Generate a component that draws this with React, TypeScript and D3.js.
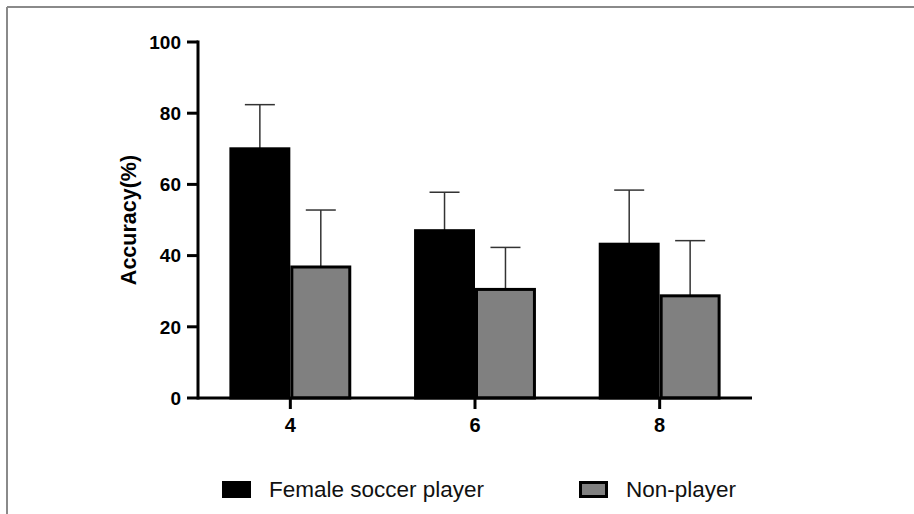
import * as d3 from "d3";
import React from "react";

// values
const categories = ["4", "6", "8"];
const seriesNames = ["Female soccer player", "Non-player"];
const playerMean = [70, 47, 43.2];
const playerSd = [12.4, 10.8, 15.2];
const nonPlayerMean = [36.8, 30.5, 28.7];
const nonPlayerSd = [16, 11.8, 15.5];
const yTicks = [0, 20, 40, 60, 80, 100];

const W = 914;
const H = 514;
const margin = { top: 42, right: 162, bottom: 116, left: 198 };

const fills = ["#000000", "#808080"];
const font = "'Liberation Sans', Arial, sans-serif";

const App = () => {
  const x = d3.scaleBand()
    .domain(categories)
    .range([margin.left, W - margin.right])
    .padding(0);

  const inner = d3.scaleBand()
    .domain(seriesNames)
    .range([0, x.bandwidth() * 0.66])
    .padding(0);

  const y = d3.scaleLinear()
    .domain([0, 100])
    .range([H - margin.bottom, margin.top]);

  const groupOffset = x.bandwidth() * 0.17;

  const rows = categories.map((c, i) => ({
    cat: c,
    bars: [
      { name: seriesNames[0], mean: playerMean[i], sd: playerSd[i] },
      { name: seriesNames[1], mean: nonPlayerMean[i], sd: nonPlayerSd[i] },
    ],
  }));

  const y0 = y(0);
  const axisLeft = margin.left;
  const axisRight = W - margin.right;

  return (
    <svg width={W} height={H} style={{ position: "absolute", left: 0, top: 0, background: "#fff" }}>
      {/* frame */}
      <line x1={7} y1={7} x2={W} y2={7} stroke="#8a8a8a" strokeWidth={2} />
      <line x1={7} y1={7} x2={7} y2={H} stroke="#8a8a8a" strokeWidth={2} />

      {/* bars + error bars */}
      {rows.map((r) => (
        <g key={r.cat} transform={`translate(${x(r.cat)! + groupOffset},0)`}>
          {r.bars.map((b, j) => {
            const bx = inner(b.name)!;
            const bw = inner.bandwidth();
            const cx = bx + bw / 2;
            return (
              <g key={b.name}>
                <line x1={cx} x2={cx} y1={y(b.mean)} y2={y(b.mean + b.sd)} stroke="#333" strokeWidth={1.5} />
                <line x1={cx - 15} x2={cx + 15} y1={y(b.mean + b.sd)} y2={y(b.mean + b.sd)} stroke="#333" strokeWidth={1.5} />
                <rect
                  x={bx + 1.5}
                  y={y(b.mean)}
                  width={bw - 3}
                  height={y0 - y(b.mean)}
                  fill={fills[j]}
                  stroke="#000"
                  strokeWidth={3}
                />
              </g>
            );
          })}
        </g>
      ))}

      {/* y axis */}
      <line x1={axisLeft} x2={axisLeft} y1={y(100) - 1.5} y2={y0 + 1.5} stroke="#000" strokeWidth={3} />
      {yTicks.map((t) => (
        <g key={t} transform={`translate(0,${y(t)})`}>
          <line x1={axisLeft - 11} x2={axisLeft} y1={0} y2={0} stroke="#000" strokeWidth={3} />
          <text
            x={axisLeft - 17}
            dy="0.36em"
            textAnchor="end"
            fontFamily={font}
            fontWeight="bold"
            fontSize={19}
          >
            {t}
          </text>
        </g>
      ))}
      <text
        transform={`translate(128,${(y(100) + y0) / 2}) rotate(-90)`}
        textAnchor="middle"
        dy="0.35em"
        fontFamily={font}
        fontWeight="bold"
        fontSize={21.5}
      >
        Accuracy(%)
      </text>

      {/* x axis */}
      <line x1={axisLeft} x2={axisRight} y1={y0} y2={y0} stroke="#000" strokeWidth={3} />
      {categories.map((c) => {
        const cx = x(c)! + x.bandwidth() / 2;
        return (
          <g key={c}>
            <line x1={cx} x2={cx} y1={y0} y2={y0 + 11} stroke="#000" strokeWidth={3} />
            <text x={cx} y={y0 + 34} textAnchor="middle" fontFamily={font} fontWeight="bold" fontSize={20}>
              {c}
            </text>
          </g>
        );
      })}

      {/* legend */}
      {seriesNames.map((n, j) => {
        const lx = j === 0 ? 222 : 579;
        return (
          <g key={n} transform={`translate(${lx},481)`}>
            <rect x={1.5} y={1.5} width={26} height={14} fill={fills[j]} stroke="#000" strokeWidth={3} />
            <text x={47} y={16} fontFamily={font} fontSize={22.5} fill="#111">
              {n}
            </text>
          </g>
        );
      })}
    </svg>
  );
};

export default App;
